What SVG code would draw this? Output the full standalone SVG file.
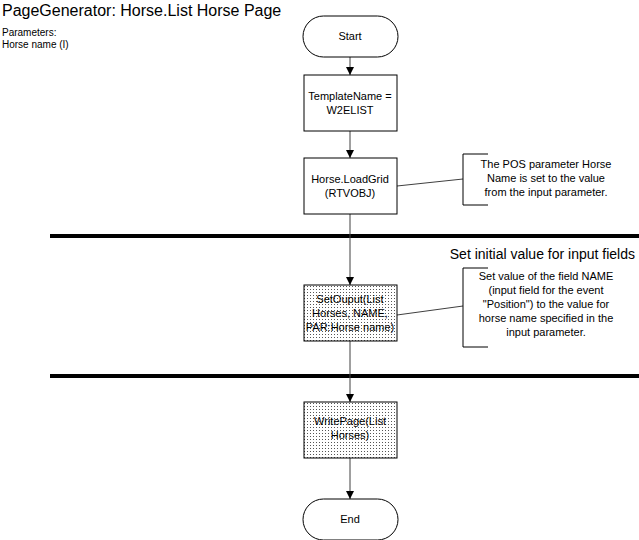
<svg xmlns="http://www.w3.org/2000/svg" width="639" height="540" viewBox="0 0 639 540">
<style>
text{font-family:"Liberation Sans",Arial,sans-serif;fill:#000}
.t{font-size:11px;text-anchor:middle}
.c{font-size:11px;text-anchor:middle}
.box{fill:#fff;stroke:#000;stroke-width:1}
.dot{fill:url(#dots);stroke:#000;stroke-width:1}
.conn{stroke:#404040;stroke-width:1;fill:none}
.bar{stroke:#000;stroke-width:4}
</style>
<defs>
<pattern id="dots" width="3" height="3" patternUnits="userSpaceOnUse">
<rect width="3" height="3" fill="#fff"/>
<rect x="1" y="1" width="1" height="1" fill="#555"/>
</pattern>
<marker id="arr" markerWidth="8" markerHeight="8" refX="8" refY="4" orient="auto" markerUnits="userSpaceOnUse">
<path d="M0,0 L8,4 L0,8 z" fill="#000"/>
</marker>
</defs>
<text x="2" y="16" font-size="16">PageGenerator: Horse.List Horse Page</text>
<text x="2" y="36" font-size="10">Parameters:</text>
<text x="2" y="48" font-size="10">Horse name (I)</text>
<line class="bar" x1="50" y1="236" x2="639" y2="236"/>
<line class="bar" x1="50" y1="376" x2="639" y2="376"/>
<text x="635" y="259" font-size="14" text-anchor="end">Set initial value for input fields</text>
<g id="connectors">
<line class="conn" x1="350" y1="57" x2="350" y2="75" marker-end="url(#arr)"/>
<line class="conn" x1="350" y1="131" x2="350" y2="158" marker-end="url(#arr)"/>
<line class="conn" x1="350" y1="214" x2="350" y2="285" marker-end="url(#arr)"/>
<line class="conn" x1="350" y1="341" x2="350" y2="402" marker-end="url(#arr)"/>
<line class="conn" x1="350" y1="458" x2="350" y2="499" marker-end="url(#arr)"/>
<line class="conn" stroke="#000" x1="397" y1="186" x2="463" y2="179"/>
<line class="conn" stroke="#000" x1="397" y1="315" x2="463" y2="306"/>
</g>
<g id="start">
<rect class="box" x="303" y="16" width="95" height="41" rx="20.5"/>
<text class="t" x="350" y="40">Start</text>
</g>
<g id="template">
<rect class="box" x="304" y="75" width="93" height="56"/>
<text class="t" x="350" y="100">TemplateName =</text>
<text class="t" x="350" y="114">W2ELIST</text>
</g>
<g id="loadgrid">
<rect class="box" x="304" y="158" width="93" height="56"/>
<text class="t" x="350" y="183">Horse.LoadGrid</text>
<text class="t" x="350" y="197">(RTVOBJ)</text>
</g>
<g id="note1">
<path d="M488,154 H463 V205 H488" fill="none" stroke="#000"/>
<text class="c" x="546" y="168">The POS parameter Horse</text>
<text class="c" x="546" y="182">Name is set to the value</text>
<text class="c" x="546" y="196">from the input parameter.</text>
</g>
<g id="setoutput">
<rect class="dot" x="304" y="285" width="93" height="56"/>
<text class="t" x="350" y="303">SetOuput(List</text>
<text class="t" x="350" y="317">Horses, NAME,</text>
<text class="t" x="350" y="331">PAR:Horse name)</text>
</g>
<g id="note2">
<path d="M488,268 H463 V347 H488" fill="none" stroke="#000"/>
<text class="c" x="546" y="280">Set value of the field NAME</text>
<text class="c" x="546" y="294">(input field for the event</text>
<text class="c" x="546" y="308">"Position") to the value for</text>
<text class="c" x="546" y="322">horse name specified in the</text>
<text class="c" x="546" y="336">input parameter.</text>
</g>
<g id="writepage">
<rect class="dot" x="304" y="402" width="93" height="56"/>
<text class="t" x="350" y="425">WritePage(List</text>
<text class="t" x="350" y="439">Horses)</text>
</g>
<g id="end">
<rect class="box" x="303" y="499" width="95" height="41" rx="20.5"/>
<text class="t" x="350" y="523">End</text>
</g>
</svg>
